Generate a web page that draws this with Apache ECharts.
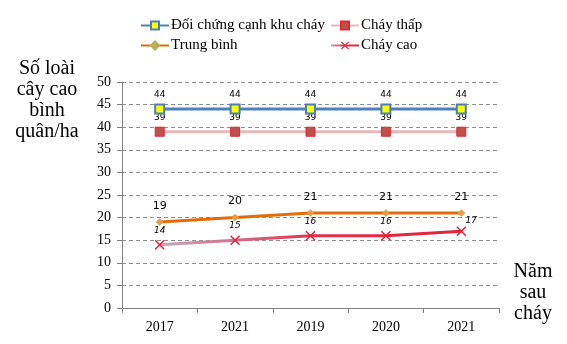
<!DOCTYPE html>
<html>
<head>
<meta charset="utf-8">
<script src="https://cdn.jsdelivr.net/npm/echarts@6/dist/echarts.min.js"></script>
<style>
  html, body { margin: 0; padding: 0; background: #fff; }
  #chart { width: 567px; height: 344px; }
</style>
</head>
<body>
<div id="chart"></div>
<script>
// Years after the fire (as labelled on the category axis)
const years = ['2017', '2021', '2019', '2020', '2021'];
const yTicks = [0, 5, 10, 15, 20, 25, 30, 35, 40, 45, 50];

const seriesNames = ['Đối chứng cạnh khu cháy', 'Cháy thấp', 'Trung bình', 'Cháy cao'];
const controlPlot = [44, 44, 44, 44, 44];
const lowFire = [39, 39, 39, 39, 39];
const mediumFire = [19, 20, 21, 21, 21];
const highFire = [14, 15, 16, 16, 17];

const serif = '"Liberation Serif", "Times New Roman", serif';
const sans = '"DejaVu Sans", Verdana, sans-serif';
const crossPath = 'path://M0,1L1,0L5,4L9,0L10,1L6,5L10,9L9,10L5,6L1,10L0,9L4,5Z';

const chart = echarts.init(document.getElementById('chart'));

const legendBase = {
  orient: 'vertical', itemGap: 5, padding: 0,
  itemWidth: 28, itemHeight: 10,
  textStyle: { fontFamily: serif, fontSize: 15, color: '#000', padding: [0, 0, 0, -3] }
};

chart.setOption({
  animation: false,
  grid: { left: 122, right: 68, top: 82, bottom: 36 },
  legend: [
    Object.assign({ left: 140, top: 18, data: [seriesNames[0], seriesNames[2]] }, legendBase),
    Object.assign({ left: 330, top: 18, data: [seriesNames[1], seriesNames[3]] }, legendBase)
  ],
  graphic: [
    {
      type: 'text', x: 47, y: 58,
      style: {
        text: 'Số loài\ncây cao\nbình\nquân/ha',
        fontFamily: serif, fontSize: 20, lineHeight: 21,
        fill: '#000', align: 'center', verticalAlign: 'top'
      }
    },
    {
      type: 'text', x: 533, y: 261,
      style: {
        text: 'Năm\nsau\ncháy',
        fontFamily: serif, fontSize: 20, lineHeight: 21,
        fill: '#000', align: 'center', verticalAlign: 'top'
      }
    }
  ],
  xAxis: {
    type: 'category',
    data: years,
    boundaryGap: true,
    axisLine: { lineStyle: { color: '#808080', width: 1 } },
    axisTick: { show: true, length: 5, lineStyle: { color: '#808080' } },
    axisLabel: { fontFamily: serif, fontSize: 14, color: '#000', margin: 12 }
  },
  yAxis: {
    type: 'value',
    min: yTicks[0], max: yTicks[yTicks.length - 1], interval: yTicks[1] - yTicks[0],
    axisLine: { show: true, lineStyle: { color: '#808080', width: 1 } },
    axisTick: { show: true, length: 5, lineStyle: { color: '#808080' } },
    axisLabel: { fontFamily: serif, fontSize: 14, color: '#000', margin: 11 },
    splitLine: { lineStyle: { color: '#909090', type: [4, 3], width: 1 } }
  },
  series: [
    {
      name: seriesNames[0], type: 'line', data: controlPlot, z: 4,
      symbol: 'rect', symbolSize: 9,
      lineStyle: { color: '#4f81bd', width: 3 },
      itemStyle: { color: '#ffff00', borderColor: '#4a7ebb', borderWidth: 2 },
      label: { show: true, position: 'top', distance: 4, fontFamily: sans, fontSize: 9, color: '#000' }
    },
    {
      name: seriesNames[1], type: 'line', data: lowFire, z: 3,
      symbol: 'rect', symbolSize: 9,
      lineStyle: { color: '#e6b9b8', width: 3 },
      itemStyle: { color: '#c0504d', borderColor: '#e0282e', borderWidth: 1 },
      label: { show: true, position: 'top', distance: 5, fontFamily: sans, fontSize: 9, color: '#000' }
    },
    {
      name: seriesNames[2], type: 'line', data: mediumFire, z: 3,
      symbol: 'diamond', symbolSize: 7,
      lineStyle: { color: '#e36c09', width: 3 },
      itemStyle: { color: '#f79646', borderColor: '#9bbb59', borderWidth: 0.6 },
      label: { show: true, position: 'top', distance: 7, fontFamily: sans, fontSize: 11, color: '#000' }
    },
    {
      name: seriesNames[3], type: 'line', data: highFire.map((v, i) =>
        i === highFire.length - 1
          ? { value: v, label: { position: 'top', offset: [10, 4] } }
          : v), z: 3,
      symbol: crossPath, symbolSize: 10,
      lineStyle: {
        width: 3,
        color: new echarts.graphic.LinearGradient(0, 0, 1, 0, [
          { offset: 0, color: '#c9a7c4' },
          { offset: 0.5, color: '#e0344a' },
          { offset: 1, color: '#e5203a' }
        ])
      },
      itemStyle: { color: '#e5203a' },
      label: { show: true, position: 'top', distance: 5, fontFamily: sans, fontSize: 9, fontStyle: 'italic', color: '#000' }
    }
  ]
});
</script>
</body>
</html>
